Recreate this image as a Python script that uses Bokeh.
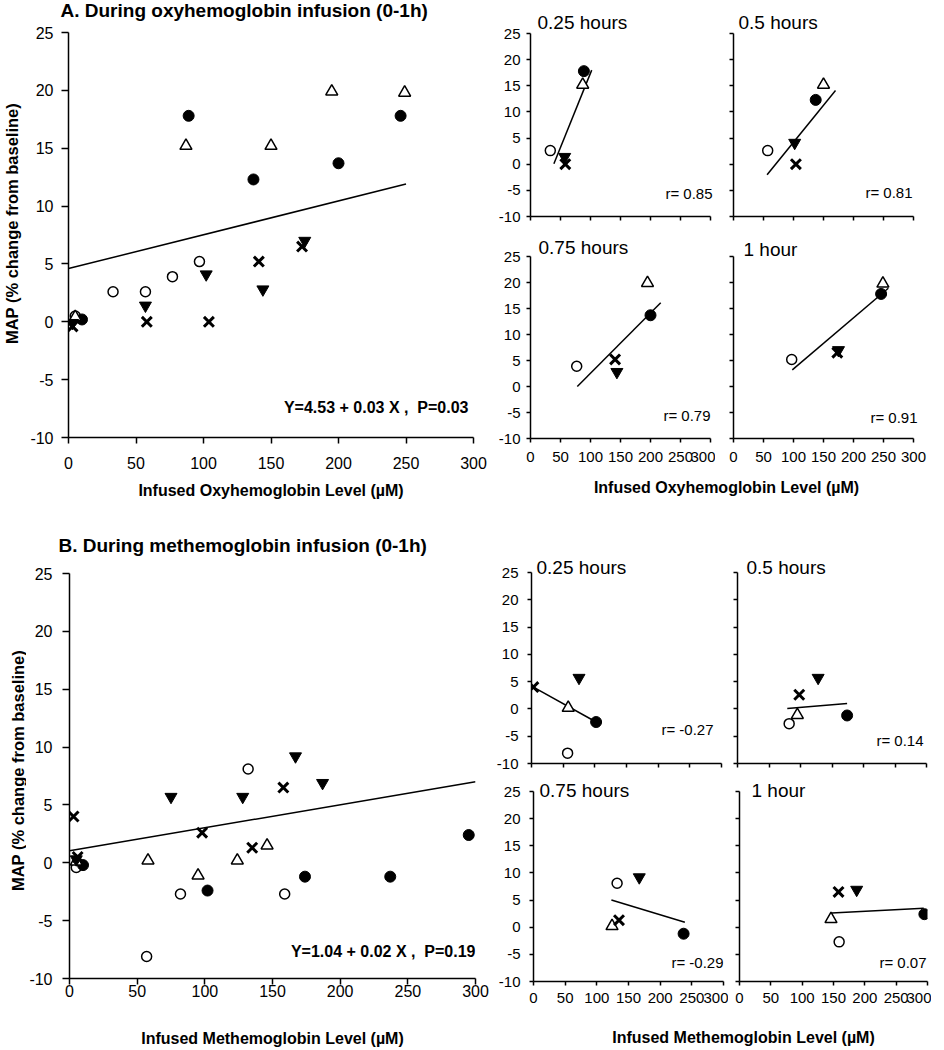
import math
from bokeh.plotting import figure
from bokeh.layouts import row, column
from bokeh.models import Range1d, FixedTicker, Label
from bokeh.embed import file_html
from bokeh.resources import INLINE

FONT = "Liberation Sans"

# ---------------- data ----------------
x_ticks = [0, 50, 100, 150, 200, 250, 300]
y_ticks = [-10, -5, 0, 5, 10, 15, 20, 25]
time_labels = ["0.25 hours", "0.5 hours", "0.75 hours", "1 hour"]   # index 1..4 of each series

# A. oxyhemoglobin infusion: 5 animals x (0, 0.25, 0.5, 0.75, 1 h)
oxy_open_circle_x = [5, 33, 57, 77, 97]
oxy_open_circle_y = [0.5, 2.6, 2.6, 3.9, 5.2]
oxy_filled_circle_x = [10, 89, 137, 200, 246]
oxy_filled_circle_y = [0.2, 17.8, 12.3, 13.7, 17.8]
oxy_open_tri_x = [5, 87, 150, 195, 249]
oxy_open_tri_y = [0.4, 15.2, 15.2, 19.9, 19.8]
oxy_tri_down_x = [3, 57, 102, 144, 175]
oxy_tri_down_y = [-0.1, 1.4, 4.1, 2.8, 7.0]
oxy_cross_x = [3, 58, 104, 141, 173]
oxy_cross_y = [-0.4, 0.0, 0.0, 5.2, 6.5]

oxy_fit_all_x = [0, 250]
oxy_fit_all_y = [4.6, 11.9]
oxy_equation = "Y=4.53 + 0.03 X ,\u00a0 P=0.03"
oxy_fit_x0 = [39, 56, 78, 98]
oxy_fit_y0 = [0.1, -2.0, 0.0, 3.2]
oxy_fit_x1 = [102, 170, 217, 258]
oxy_fit_y1 = [18.0, 14.1, 16.1, 18.9]
oxy_r = ["r= 0.85", "r= 0.81", "r= 0.79", "r= 0.91"]

# B. methemoglobin infusion
met_open_circle_x = [5, 57, 82, 132, 159]
met_open_circle_y = [-0.4, -8.1, -2.7, 8.1, -2.7]
met_filled_circle_x = [10, 102, 174, 237, 295]
met_filled_circle_y = [-0.2, -2.4, -1.2, -1.2, 2.4]
met_open_tri_x = [5, 58, 95, 124, 146]
met_open_tri_y = [0.1, 0.2, -1.1, 0.2, 1.5]
met_tri_down_x = [5, 75, 128, 167, 187]
met_tri_down_y = [0.3, 5.7, 5.7, 9.2, 6.9]
met_cross_x = [6, 3, 98, 135, 158]
met_cross_y = [0.5, 4.0, 2.6, 1.3, 6.5]

met_fit_all_x = [0, 300]
met_fit_all_y = [1.04, 7.0]
met_equation = "Y=1.04 + 0.02 X ,\u00a0 P=0.19"
met_fit_x0 = [3, 79, 123, 147]
met_fit_y0 = [4.0, 0.1, 5.0, 2.6]
met_fit_x1 = [102, 174, 239, 294]
met_fit_y1 = [-2.4, 1.0, 0.9, 3.5]
met_r = ["r= -0.27", "r= 0.14", "r= -0.29", "r= 0.07"]

oxy_series = [(oxy_open_circle_x, oxy_open_circle_y), (oxy_filled_circle_x, oxy_filled_circle_y),
              (oxy_open_tri_x, oxy_open_tri_y), (oxy_tri_down_x, oxy_tri_down_y),
              (oxy_cross_x, oxy_cross_y)]
met_series = [(met_open_circle_x, met_open_circle_y), (met_filled_circle_x, met_filled_circle_y),
              (met_open_tri_x, met_open_tri_y), (met_tri_down_x, met_tri_down_y),
              (met_cross_x, met_cross_y)]

subject_styles = [
    dict(marker="circle", size=10, fill_color="white", line_width=1.5),
    dict(marker="circle", size=11, fill_color="black", line_width=1),
    dict(marker="triangle", size=12, fill_color="white", line_width=1.5),
    dict(marker="inverted_triangle", size=12, fill_color="black", line_width=1),
    dict(marker="x", size=14, fill_color=None, line_width=3),
]

X0, X1, Y0, Y1 = 0, 300, -10, 25
TEXT_SHIFT = 6   # svg text baseline correction (px, upward)


# ---------------- helpers ----------------
def make_panel(fw, fh, borders, show_x, show_y, tick_px, xt_out, yt_out, xs_off, ys_off,
               y_ext=0, x_ext=0):
    """fw/fh: pixel size of the 0-300 / -10..25 area; y_ext/x_ext: extra frame px above / right."""
    bl, br, bt, bb = borders
    y_end = Y1 + y_ext * (Y1 - Y0) / fh
    x_end = X1 + x_ext * (X1 - X0) / fw
    p = figure(frame_width=fw + x_ext, frame_height=fh + y_ext,
               x_range=Range1d(X0, x_end), y_range=Range1d(Y0, y_end),
               min_border_left=bl, min_border_right=br,
               min_border_top=bt, min_border_bottom=bb,
               output_backend="svg", toolbar_location=None)
    p.grid.visible = False
    p.outline_line_color = None
    p.background_fill_color = "white"
    p.border_fill_color = "white"
    p.xaxis.ticker = FixedTicker(ticks=x_ticks, minor_ticks=[])
    p.yaxis.ticker = FixedTicker(ticks=y_ticks, minor_ticks=[])
    p.xaxis.bounds = (X0, X1)
    p.yaxis.bounds = (Y0, Y1)
    p.yaxis.major_label_overrides = {t: str(t) for t in y_ticks}
    for ax, show, out, so in ((p.xaxis[0], show_x, xt_out, xs_off),
                              (p.yaxis[0], show_y, yt_out, ys_off)):
        ax.axis_line_color = "black"
        ax.axis_line_width = 1.5
        ax.major_tick_line_color = "black"
        ax.major_tick_line_width = 1.5
        ax.major_tick_in = 0
        ax.major_tick_out = out
        ax.minor_tick_line_color = None
        ax.major_label_text_font = FONT
        ax.major_label_text_color = "black"
        if show:
            ax.major_label_text_font_size = f"{tick_px}px"
            ax.major_label_standoff = so
        else:
            ax.major_label_text_font_size = "0px"
            ax.major_label_text_color = None
            ax.major_label_standoff = 0
    return p


def draw_points(p, series, idx=None):
    for (xs, ys), st in zip(series, subject_styles):
        if idx is not None:
            xs, ys = [xs[idx]], [ys[idx]]
        p.scatter(xs, ys, marker=st["marker"], size=st["size"],
                  fill_color=st["fill_color"], line_color="black",
                  line_width=st["line_width"])


def add_text(p, text, x, y, xo, yo, px, bold=False, align="left",
             baseline="alphabetic", angle=0.0):
    p.add_layout(Label(x=x, y=y, x_offset=xo, y_offset=yo, text=text,
                       text_font=FONT, text_font_size=f"{px}px",
                       text_font_style="bold" if bold else "normal",
                       text_align=align, text_baseline=baseline,
                       angle=angle, text_color="black"))


def blank_fig(w, h, bt=0, bb=0):
    p = figure(frame_width=w, frame_height=h, x_range=Range1d(0, w), y_range=Range1d(0, h),
               x_axis_type=None, y_axis_type=None, min_border=0,
               min_border_top=bt, min_border_bottom=bb,
               output_backend="svg", toolbar_location=None)
    p.grid.visible = False
    p.outline_line_color = None
    return p


def text_fig(w, h, text, x, base_from_top, px, align):
    p = blank_fig(w, h)
    add_text(p, text, x, h - base_from_top, 0, TEXT_SHIFT, px, bold=True, align=align)
    return p


def ylabel_fig(w, fh, bt, bb, text, cx, cy_from_frame_top):
    # same vertical borders as the neighbouring plot, so the frames line up
    p = blank_fig(w, fh, bt, bb)
    add_text(p, text, cx, fh - cy_from_frame_top, 0, 0, 16.5, bold=True, align="center",
             baseline="middle", angle=math.pi / 2)
    return p


def style_xlabel(p, xlabel, standoff):
    p.xaxis.axis_label = xlabel
    p.xaxis.axis_label_text_font = FONT
    p.xaxis.axis_label_text_font_size = "16px"
    p.xaxis.axis_label_text_font_style = "bold"
    p.xaxis.axis_label_text_color = "black"
    p.xaxis.axis_label_standoff = standoff


# ---------------- panel A ----------------
A_title = text_fig(490, 23, "A. During oxyhemoglobin infusion (0-1h)", 60, 16, 19, "left")
A_ylab = ylabel_fig(26, 405, 9, 78, "MAP (% change from baseline)", 11, 191)

A_big = make_panel(405, 405, (42, 17, 9, 78), True, True, 16, 6, 7, 13, 8)
style_xlabel(A_big, "Infused Oxyhemoglobin Level (µM)", 10)
A_big.line(oxy_fit_all_x, oxy_fit_all_y, line_color="black", line_width=1.5)
draw_points(A_big, oxy_series)
add_text(A_big, oxy_equation, X1, Y0, -5, 24 + TEXT_SHIFT, 16, bold=True, align="right")

a_specs = [
    dict(fw=180, fh=183, ext=28, b=(40, 0, 5, 8), sx=False, sy=True, t=(7, 5), r=(2, 17)),
    dict(fw=180, fh=183, ext=28, b=(18, 10, 5, 8), sx=False, sy=False, t=(5, 5), r=(-1, 18)),
    dict(fw=180, fh=182, ext=22, b=(40, 0, 10, 30), sx=True, sy=True, t=(8, 3), r=(0, 17)),
    dict(fw=180, fh=182, ext=22, b=(18, 10, 10, 30), sx=True, sy=False, t=(10, 1), r=(4, 15)),
]
a_small = []
for i, s in enumerate(a_specs):
    p = make_panel(s["fw"], s["fh"], s["b"], s["sx"], s["sy"], 15, 4, 4, 9, 6,
                   y_ext=s["ext"], x_ext=5)
    p.line([oxy_fit_x0[i], oxy_fit_x1[i]], [oxy_fit_y0[i], oxy_fit_y1[i]],
           line_color="black", line_width=1.5)
    draw_points(p, oxy_series, i + 1)
    add_text(p, time_labels[i], X0, Y1, s["t"][0], s["t"][1] + TEXT_SHIFT, 19)
    add_text(p, oxy_r[i], X1, Y0, s["r"][0], s["r"][1] + TEXT_SHIFT, 15, align="right")
    a_small.append(p)

a_lbl = text_fig(438, 47, "Infused Oxyhemoglobin Level (µM)", 236, 25, 16, "center")

top = row(column(A_title, row(A_ylab, A_big)),
          column(row(a_small[0], a_small[1]), row(a_small[2], a_small[3]), a_lbl))

# ---------------- panel B ----------------
B_title = text_fig(490, 49, "B. During methemoglobin infusion (0-1h)", 58, 36, 19, "left")
B_ylab = ylabel_fig(26, 405, 9, 70, "MAP (% change from baseline)", 17, 197)

B_big = make_panel(406, 405, (40, 18, 9, 70), True, True, 16, 6, 7, 0, 10)
style_xlabel(B_big, "Infused Methemoglobin Level (µM)", 30)
B_big.line(met_fit_all_x, met_fit_all_y, line_color="black", line_width=1.5)
draw_points(B_big, met_series)
add_text(B_big, met_equation, X1, Y0, 0, 21 + TEXT_SHIFT, 16, bold=True, align="right")

b_specs = [
    dict(fw=190, fh=191, ext=20, b=(38, 5, 37, 8), sx=False, sy=True, t=(5, -1), r=(-8, 28)),
    dict(fw=189, fh=191, ext=20, b=(11, 5, 37, 8), sx=False, sy=False, t=(9, -1), r=(-3, 17)),
    dict(fw=190, fh=190, ext=10, b=(40, 5, 10, 28), sx=True, sy=True, t=(6, -5), r=(0, 13)),
    dict(fw=188, fh=190, ext=10, b=(11, 4, 10, 28), sx=True, sy=False, t=(12, -5), r=(-1, 13)),
]
b_small = []
for i, s in enumerate(b_specs):
    p = make_panel(s["fw"], s["fh"], s["b"], s["sx"], s["sy"], 15, 4, 4, 7, 9, y_ext=s["ext"])
    p.line([met_fit_x0[i], met_fit_x1[i]], [met_fit_y0[i], met_fit_y1[i]],
           line_color="black", line_width=1.5)
    draw_points(p, met_series, i + 1)
    add_text(p, time_labels[i], X0, Y1, s["t"][0], s["t"][1] + TEXT_SHIFT, 19)
    add_text(p, met_r[i], X1, Y0, s["r"][0], s["r"][1] + TEXT_SHIFT, 15, align="right")
    b_small.append(p)

b_lbl = text_fig(438, 39, "Infused Methemoglobin Level (µM)", 250, 34, 16, "center")

bottom = row(column(B_title, row(B_ylab, B_big)),
             column(row(b_small[0], b_small[1]), row(b_small[2], b_small[3]), b_lbl))

layout = column(top, bottom)

open("out.html", "w").write(file_html(layout, INLINE))
